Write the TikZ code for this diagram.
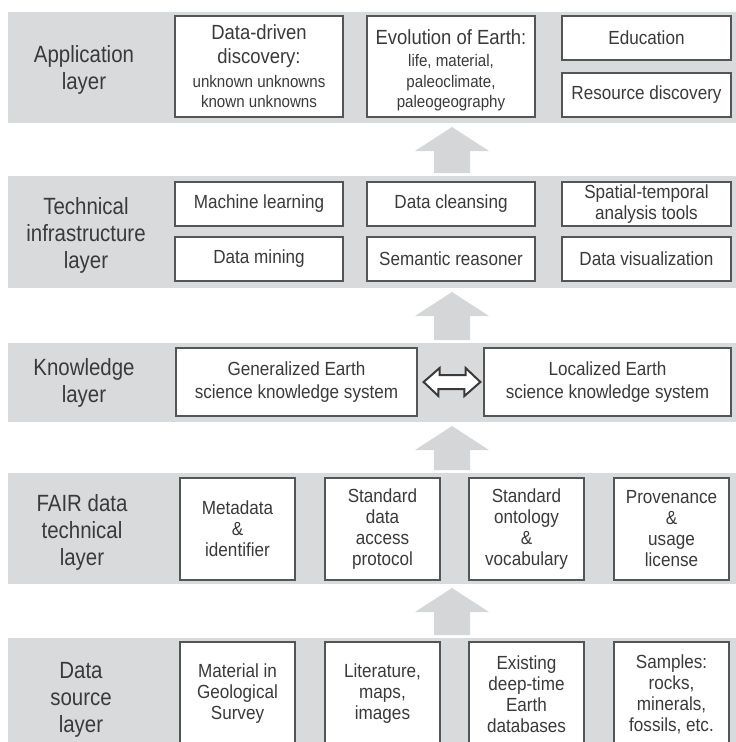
\documentclass[tikz,border=0pt]{standalone}
\usepackage{fontspec}
\setmainfont{Liberation Sans}[FakeStretch=0.9]
\newfontfamily\lblfont{Liberation Sans}[FakeStretch=0.87]
\definecolor{bandgray}{HTML}{D9DADB}
\definecolor{arrgray}{HTML}{D5D6D7}
\definecolor{boxline}{HTML}{555555}
\definecolor{txt}{HTML}{3A3A3A}
\newcommand{\sm}{\fontsize{16.8}{19}\selectfont}
\newcommand{\bg}{\fontsize{20.5}{21}\selectfont}
\begin{document}
\begin{tikzpicture}[x=1pt,y=-1pt,
  band/.style={fill=bandgray, draw=none, inner sep=0pt, outer sep=0pt, anchor=north west},
  box/.style={draw=boxline, line width=1.2pt, fill=white, inner sep=0pt, align=center,
              font=\fontsize{19}{21}\selectfont, text=txt},
  lbl/.style={align=center, font=\lblfont\fontsize{23.5}{27}\selectfont, text=txt},
  uparr/.style={fill=arrgray, draw=none},
  dblarr/.style={fill=white, draw=txt, line width=2pt, line join=miter}
]
\useasboundingbox (0,0) rectangle (736,742);
\clip (0,0) rectangle (736,742);

% bands
\node[band, minimum width=728pt, minimum height=111pt] (bapp) at (8,12) {};
\node[band, minimum width=728pt, minimum height=112pt] (btec) at (8,176) {};
\node[band, minimum width=728pt, minimum height=79pt]  (bkno) at (8,343) {};
\node[band, minimum width=728pt, minimum height=111pt] (bfai) at (8,473) {};
\node[band, minimum width=728pt, minimum height=110pt] (bdat) at (8,638) {};

% up arrows
\newcommand{\uparrowat}[3]{% x, apex y, shaft bottom y
  \fill[uparr] (#1,#2) -- (#1+37,#2+24) -- (#1+18,#2+24) -- (#1+18,#3)
     -- (#1-18,#3) -- (#1-18,#2+24) -- (#1-37,#2+24) -- cycle;}
\uparrowat{452}{127}{173}
\uparrowat{452}{292}{340}
\uparrowat{452}{426}{470}
\uparrowat{452}{588}{635}

% layer labels
\node[lbl] (lapp) at (84,69.5) {Application\\layer};
\node[lbl] (ltec) at (86,235) {Technical\\infrastructure\\layer};
\node[lbl] (lkno) at (84,383) {Knowledge\\layer};
\node[lbl] (lfai) at (82,532) {FAIR data\\technical\\layer};
\node[lbl] (ldat) at (81,700) {Data\\source\\layer};

% application layer
\node[box, minimum width=168pt, minimum height=101pt] (a1) at (259,66.5)
  {{\bg Data-driven}\\[3pt]{\bg discovery:}\\[3pt]{\sm unknown unknowns}\\[-1pt]{\sm known unknowns}};
\node[box, minimum width=168pt, minimum height=101pt] (a2) at (451,66.5)
  {\rule{0pt}{23pt}{\bg Evolution of Earth:}\\[1pt]{\sm life, material,}\\[0pt]{\sm paleoclimate,}\\[-1pt]{\sm paleogeography}};
\node[box, minimum width=169pt, minimum height=44pt] (a3) at (646.5,38) {Education};
\node[box, minimum width=169pt, minimum height=44pt] (a4) at (646.5,95) {Resource discovery};

% technical infrastructure layer
\node[box, minimum width=168pt, minimum height=44pt] (t1) at (259,204) {Machine learning};
\node[box, minimum width=168pt, minimum height=44pt] (t2) at (451,204) {Data cleansing};
\node[box, minimum width=169pt, minimum height=44pt] (t3) at (646.5,204) {Spatial-temporal\\analysis tools};
\node[box, minimum width=168pt, minimum height=44pt] (t4) at (259,259) {Data mining};
\node[box, minimum width=168pt, minimum height=44pt] (t5) at (451,259) {Semantic reasoner};
\node[box, minimum width=169pt, minimum height=44pt] (t6) at (646.5,259) {Data visualization};

% knowledge layer
\node[box, minimum width=241pt, minimum height=68pt] (k1) at (296.5,382) {Generalized Earth\\[2pt]science knowledge system};
\node[box, minimum width=247pt, minimum height=68pt] (k2) at (607.5,382) {Localized Earth\\[2pt]science knowledge system};
\draw[dblarr] ([xshift=6pt]k1.east) -- ++(16,-14) -- ++(0,7) -- ++(26,0) -- ++(0,-7)
  -- ([xshift=-3pt]k2.west) -- ++(-16,14) -- ++(0,-7) -- ++(-26,0) -- ++(0,7) -- cycle;

% FAIR data technical layer
\node[box, minimum width=115pt, minimum height=102pt] (f1) at (237.5,529) {Metadata\\\&\\identifier};
\node[box, minimum width=115pt, minimum height=102pt] (f2) at (382.5,529) {Standard\\data\\access\\protocol};
\node[box, minimum width=115pt, minimum height=102pt] (f3) at (526.5,529) {Standard\\ontology\\\&\\vocabulary};
\node[box, minimum width=115pt, minimum height=102pt] (f4) at (671.5,529) {Provenance\\\&\\usage\\license};

% data source layer
\node[box, minimum width=115pt, minimum height=104pt] (d1) at (237.5,694) {Material in\\Geological\\Survey};
\node[box, minimum width=115pt, minimum height=104pt] (d2) at (382.5,694) {Literature,\\maps,\\images};
\node[box, minimum width=115pt, minimum height=104pt] (d3) at (526.5,694) {Existing\\deep-time\\Earth\\databases};
\node[box, minimum width=115pt, minimum height=104pt] (d4) at (671.5,694) {Samples:\\rocks,\\minerals,\\fossils, etc.};
\end{tikzpicture}
\end{document}
